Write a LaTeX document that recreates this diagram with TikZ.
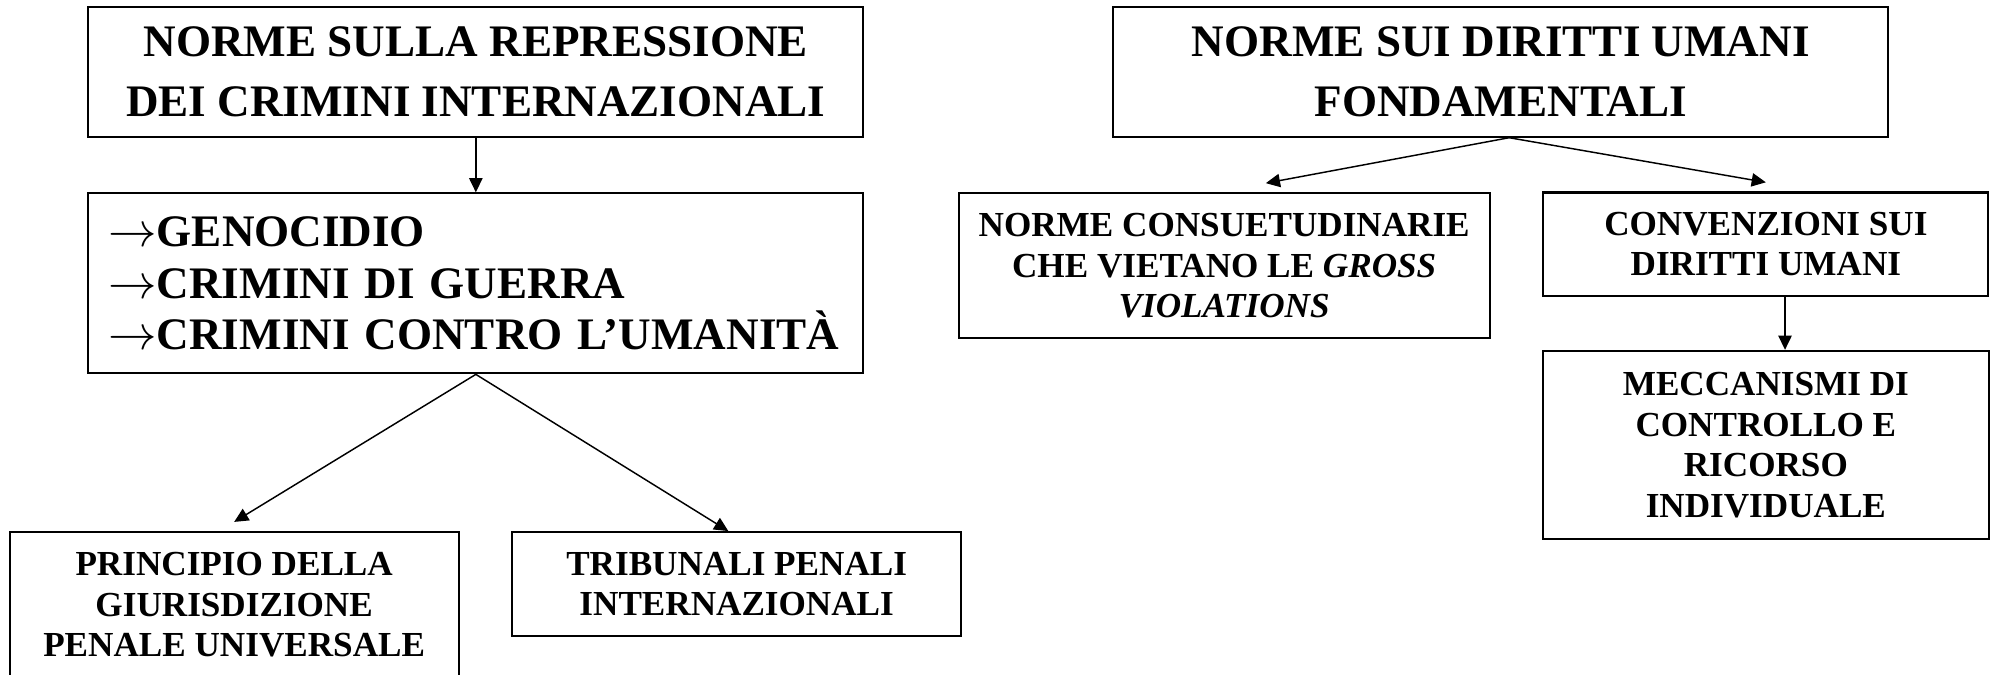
\documentclass[tikz,border=0pt]{standalone}
\usepackage{fontspec}
\setmainfont{Liberation Serif}
\usetikzlibrary{arrows.meta}

\tikzset{
  box/.style={draw, line width=0.7pt, align=center, inner sep=0pt},
  bigtxt/.style={font=\bfseries\fontsize{15.4}{20.5}\selectfont},
  listtxt/.style={font=\bfseries\fontsize{15.4}{17.6}\selectfont},
  smalltxt/.style={font=\bfseries\fontsize{12}{13.8}\selectfont},
  arr/.style={line width=0.5pt, -{Triangle[length=1.7mm, width=1.6mm]}}
}
\newcommand{\itemarr}{\scalebox{1.15}{$\rightarrow$}}

\begin{document}
\begin{tikzpicture}
    \useasboundingbox (0,0) rectangle (23.904,-8.088);
    % left tree
    \node[box, bigtxt, minimum width=9.3cm, minimum height=1.56cm] (repr) at (5.71,-0.86) {NORME SULLA REPRESSIONE\\DEI CRIMINI INTERNAZIONALI};
    \node[box, listtxt, align=left, text width=8.82cm, minimum width=9.3cm, minimum height=2.16cm] (crim) at (5.71,-3.40) {\itemarr GENOCIDIO\\\itemarr CRIMINI DI GUERRA\\\itemarr CRIMINI CONTRO L’UMANITÀ};
    \node[box, smalltxt, minimum width=5.39cm, minimum height=1.75cm] (giur) at (2.81,-7.26) {PRINCIPIO DELLA\\GIURISDIZIONE\\PENALE UNIVERSALE};
    \node[box, smalltxt, minimum width=5.39cm, minimum height=1.25cm] (trib) at (8.84,-7.01) {TRIBUNALI PENALI\\INTERNAZIONALI};
    % right tree
    \node[box, bigtxt, minimum width=9.3cm, minimum height=1.56cm] (dir) at (18.01,-0.86) {NORME SUI DIRITTI UMANI\\FONDAMENTALI};
    \node[box, smalltxt, minimum width=6.37cm, minimum height=1.74cm] (cons) at (14.69,-3.19) {NORME CONSUETUDINARIE\\CHE VIETANO LE \textit{GROSS}\\\textit{VIOLATIONS}};
    \node[box, smalltxt, minimum width=5.34cm, minimum height=1.24cm] (conv) at (21.19,-2.93) {CONVENZIONI SUI\\DIRITTI UMANI};
    \node[box, smalltxt, minimum width=5.36cm, minimum height=2.26cm] (mecc) at (21.19,-5.34) {MECCANISMI DI\\CONTROLLO E\\RICORSO\\INDIVIDUALE};

    \coordinate (giurtip) at ([yshift=1.1mm]giur.north);
    \coordinate (constip) at ([xshift=5mm, yshift=1.1mm]cons.north);
    \coordinate (convtip) at ([yshift=1.1mm]conv.north);

    \draw[arr] (repr.south) -- (crim.north);
    \draw[arr] (crim.south) -- (giurtip);
    \draw[arr] (crim.south) -- ([xshift=-1mm]trib.north);
    \draw[arr] ([xshift=1mm]dir.south) -- (constip);
    \draw[arr] ([xshift=1mm]dir.south) -- (convtip);
    \draw[arr] ([xshift=2.3mm]conv.south) -- ([xshift=2.3mm]mecc.north);
\end{tikzpicture}
\end{document}
